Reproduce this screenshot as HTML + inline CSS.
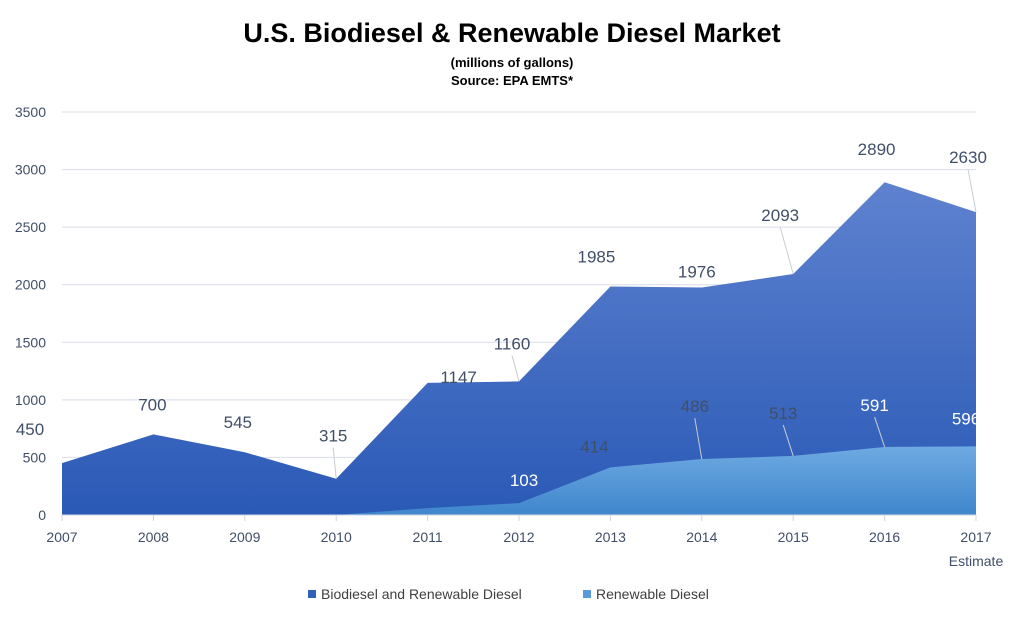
<!DOCTYPE html>
<html><head><meta charset="utf-8"><style>
body{margin:0;background:#fff;font-family:"Liberation Sans",Calibri,sans-serif}
</style></head><body>
<svg id="chart" width="1024" height="620" xmlns="http://www.w3.org/2000/svg" font-family="Liberation Sans, sans-serif">
<defs>
<linearGradient id="gb" x1="0" y1="0" x2="0" y2="1"><stop offset="0" stop-color="#5e82cf"/><stop offset="1" stop-color="#2a59b6"/></linearGradient>
<linearGradient id="gr" x1="0" y1="0" x2="0" y2="1"><stop offset="0" stop-color="#6eaae2"/><stop offset="1" stop-color="#3f86cc"/></linearGradient>
</defs>
<text x="512" y="42" text-anchor="middle" font-size="27" font-weight="bold" fill="#000">U.S. Biodiesel &amp; Renewable Diesel Market</text>
<text x="512" y="67" text-anchor="middle" font-size="13" font-weight="bold" fill="#000">(millions of gallons)</text>
<text x="512" y="85" text-anchor="middle" font-size="13" font-weight="bold" fill="#000">Source: EPA EMTS*</text>
<g id="grid"></g><g id="areas"></g><g id="axes"></g><g id="labels"></g>
<g>
<rect x="308" y="590" width="8" height="8" fill="#3160bb"/>
<text x="321" y="599" font-size="14" fill="#404040">Biodiesel and Renewable Diesel</text>
<rect x="583" y="590" width="8" height="8" fill="#5a9ad8"/>
<text x="596" y="599" font-size="14" fill="#404040">Renewable Diesel</text>
</g>
</svg>
<script>
const years=["2007","2008","2009","2010","2011","2012","2013","2014","2015","2016","2017"];
const biodiesel=[450,700,545,315,1147,1160,1985,1976,2093,2890,2630];
const renewable=[0,0,0,0,60,103,414,486,513,591,596];
const renewableLabeled=[false,false,false,false,false,true,true,true,true,true,true];
const yTicks=[0,500,1000,1500,2000,2500,3000,3500];
const bOff=[[-32,-28],[-1,-24],[-7,-24],[-3,-37],[31,-0],[-7,-32],[-14,-24],[-5,-10],[-13,-53],[-8,-27],[-8,-49]];
const rOff=[[0,0],[0,0],[0,0],[0,0],[0,0],[5,-17],[-16,-15],[-7,-47],[-10,-37],[-10,-36],[-10,-22]];
const ns="http://www.w3.org/2000/svg";
const x=i=>62+i*91.4, y=v=>515-v*(403/3500);
function mk(t,a,p){const e=document.createElementNS(ns,t);for(const k in a)e.setAttribute(k,a[k]);document.getElementById(p).appendChild(e);return e;}
yTicks.forEach(t=>{
 const l=mk('line',{x1:62,x2:976,y1:y(t),y2:y(t),stroke:'#d9dde6','stroke-width':1},'grid');
 
 
 const tx=mk('text',{x:46,y:y(t)+5,'text-anchor':'end','font-size':14,fill:'#404f68'},'axes');
 tx.textContent=t;
 
 
});
function area(vals,fill,name){
 let d='M'+x(0)+','+y(0);vals.forEach((v,i)=>d+=' L'+x(i)+','+y(v));d+=' L'+x(vals.length-1)+','+y(0)+'Z';
 const p=mk('path',{d:d,fill:fill},'areas');
 
 
}
area(biodiesel,'url(#gb)','area-biodiesel');
area(renewable,'url(#gr)','area-renewable');
const ax=mk('line',{x1:62,x2:976,y1:515,y2:515,stroke:'#d0d6e2'},'axes');


years.forEach((yr,i)=>{
 const tk=mk('line',{x1:x(i),x2:x(i),y1:515,y2:521,stroke:'#d0d6e2'},'axes');
 
 
 const t=mk('text',{x:x(i),y:542,'text-anchor':'middle','font-size':14,fill:'#404f68'},'axes');
 t.textContent=yr;
 
 
});
const est=mk('text',{x:x(10),y:566,'text-anchor':'middle','font-size':14,fill:'#404f68'},'axes');
est.textContent='Estimate';


function label(i,v,off,col,name){
 const px=x(i),py=y(v),lx=px+off[0],ly=py+off[1];
 if(Math.abs(off[1])>28){const l=mk('line',{x1:px,y1:py,x2:lx,y2:ly+6,stroke:'#c8ccd4'},'labels');
 
 }
 const t=mk('text',{x:lx,y:ly,'text-anchor':'middle','font-size':17,fill:col},'labels');
 t.textContent=v;
 
 
}
biodiesel.forEach((v,i)=>label(i,v,bOff[i],'#404f68','label-biodiesel'));
renewable.forEach((v,i)=>{if(renewableLabeled[i])label(i,v,rOff[i],i===5||i>=9?'#ffffff':'#404f68','label-renewable');});
</script>
</body></html>
